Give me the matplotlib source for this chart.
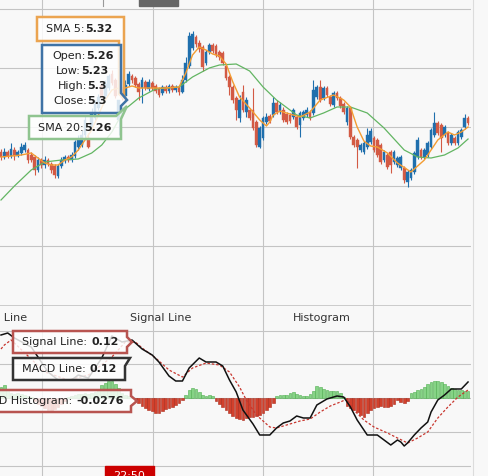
import numpy as np
import matplotlib.pyplot as plt
from matplotlib.patches import Polygon, Rectangle

# ---- price candles (one per bar) ----
opens = [5.196, 5.186, 5.196, 5.188, 5.200, 5.188, 5.194, 5.200, 5.200, 5.190,
         5.186, 5.160, 5.180, 5.170, 5.180, 5.172, 5.168, 5.148, 5.168, 5.178,
         5.186, 5.180, 5.188, 5.206, 5.210, 5.230, 5.224, 5.244, 5.264, 5.284,
         5.330, 5.308, 5.324, 5.352, 5.340, 5.260, 5.316, 5.308, 5.332, 5.348,
         5.344, 5.332, 5.324, 5.336, 5.322, 5.334, 5.328, 5.322, 5.314, 5.326,
         5.318, 5.328, 5.320, 5.326, 5.316, 5.340, 5.368, 5.404, 5.426, 5.414,
         5.406, 5.374, 5.396, 5.410, 5.408, 5.396, 5.394, 5.368, 5.346, 5.326,
         5.304, 5.264, 5.316, 5.276, 5.280, 5.280, 5.256, 5.206, 5.224, 5.256,
         5.268, 5.270, 5.294, 5.276, 5.280, 5.272, 5.270, 5.266, 5.266, 5.250,
         5.264, 5.270, 5.276, 5.274, 5.306, 5.326, 5.304, 5.324, 5.306, 5.290,
         5.314, 5.304, 5.292, 5.256, 5.284, 5.226, 5.220, 5.200, 5.196, 5.206,
         5.216, 5.224, 5.220, 5.210, 5.180, 5.190, 5.196, 5.176, 5.170, 5.164,
         5.164, 5.136, 5.144, 5.156, 5.186, 5.200, 5.186, 5.190, 5.206, 5.230,
         5.254, 5.250, 5.230, 5.234, 5.214, 5.224, 5.214, 5.226, 5.246, 5.264]
closes = [5.186, 5.196, 5.188, 5.202, 5.188, 5.196, 5.206, 5.210, 5.180, 5.180,
          5.160, 5.180, 5.170, 5.180, 5.172, 5.160, 5.150, 5.168, 5.180, 5.186,
          5.180, 5.190, 5.216, 5.220, 5.230, 5.260, 5.206, 5.276, 5.292, 5.306,
          5.308, 5.332, 5.348, 5.334, 5.308, 5.300, 5.304, 5.330, 5.352, 5.340,
          5.330, 5.316, 5.340, 5.324, 5.336, 5.324, 5.318, 5.310, 5.326, 5.318,
          5.328, 5.320, 5.326, 5.316, 5.340, 5.374, 5.428, 5.432, 5.412, 5.402,
          5.366, 5.396, 5.410, 5.398, 5.390, 5.386, 5.374, 5.344, 5.326, 5.300,
          5.280, 5.300, 5.280, 5.300, 5.264, 5.244, 5.210, 5.244, 5.264, 5.266,
          5.258, 5.294, 5.276, 5.290, 5.260, 5.256, 5.258, 5.280, 5.246, 5.274,
          5.276, 5.280, 5.264, 5.320, 5.326, 5.300, 5.324, 5.310, 5.292, 5.314,
          5.304, 5.288, 5.276, 5.284, 5.226, 5.210, 5.206, 5.210, 5.214, 5.230,
          5.238, 5.200, 5.190, 5.176, 5.196, 5.166, 5.170, 5.196, 5.184, 5.186,
          5.140, 5.156, 5.160, 5.194, 5.220, 5.186, 5.200, 5.214, 5.240, 5.254,
          5.234, 5.224, 5.246, 5.214, 5.230, 5.214, 5.236, 5.240, 5.264, 5.254]
highs = [5.202, 5.204, 5.200, 5.214, 5.206, 5.200, 5.214, 5.216, 5.204, 5.196,
         5.190, 5.186, 5.184, 5.188, 5.184, 5.176, 5.172, 5.172, 5.186, 5.190,
         5.190, 5.196, 5.220, 5.230, 5.240, 5.270, 5.234, 5.284, 5.300, 5.312,
         5.334, 5.340, 5.352, 5.360, 5.344, 5.300, 5.324, 5.340, 5.358, 5.352,
         5.348, 5.336, 5.346, 5.340, 5.342, 5.338, 5.332, 5.326, 5.330, 5.330,
         5.332, 5.332, 5.330, 5.330, 5.350, 5.386, 5.436, 5.438, 5.430, 5.420,
         5.410, 5.400, 5.414, 5.414, 5.412, 5.400, 5.398, 5.372, 5.350, 5.330,
         5.308, 5.310, 5.330, 5.306, 5.284, 5.324, 5.260, 5.248, 5.268, 5.274,
         5.272, 5.306, 5.300, 5.296, 5.286, 5.276, 5.274, 5.284, 5.270, 5.278,
         5.280, 5.286, 5.280, 5.340, 5.330, 5.340, 5.328, 5.328, 5.310, 5.318,
         5.318, 5.308, 5.296, 5.288, 5.288, 5.230, 5.224, 5.214, 5.218, 5.244,
         5.244, 5.228, 5.224, 5.214, 5.200, 5.194, 5.200, 5.200, 5.188, 5.190,
         5.168, 5.160, 5.164, 5.198, 5.226, 5.204, 5.204, 5.218, 5.244, 5.276,
         5.258, 5.254, 5.250, 5.238, 5.234, 5.228, 5.240, 5.244, 5.272, 5.268]
lows = [5.180, 5.182, 5.184, 5.184, 5.180, 5.186, 5.190, 5.196, 5.174, 5.176,
        5.150, 5.156, 5.164, 5.164, 5.168, 5.154, 5.144, 5.144, 5.164, 5.174,
        5.176, 5.176, 5.184, 5.200, 5.206, 5.224, 5.204, 5.240, 5.260, 5.280,
        5.304, 5.304, 5.320, 5.330, 5.304, 5.230, 5.300, 5.304, 5.328, 5.334,
        5.326, 5.300, 5.294, 5.320, 5.318, 5.320, 5.314, 5.306, 5.310, 5.314,
        5.314, 5.316, 5.316, 5.310, 5.314, 5.336, 5.364, 5.400, 5.406, 5.396,
        5.358, 5.370, 5.392, 5.394, 5.386, 5.380, 5.370, 5.340, 5.310, 5.294,
        5.260, 5.256, 5.276, 5.266, 5.260, 5.240, 5.206, 5.204, 5.220, 5.252,
        5.254, 5.266, 5.272, 5.272, 5.256, 5.252, 5.254, 5.262, 5.242, 5.226,
        5.260, 5.266, 5.260, 5.270, 5.302, 5.296, 5.300, 5.306, 5.288, 5.286,
        5.300, 5.284, 5.272, 5.250, 5.222, 5.206, 5.164, 5.196, 5.192, 5.202,
        5.212, 5.196, 5.186, 5.172, 5.176, 5.162, 5.154, 5.172, 5.166, 5.160,
        5.134, 5.126, 5.140, 5.152, 5.182, 5.182, 5.182, 5.186, 5.202, 5.226,
        5.230, 5.196, 5.226, 5.210, 5.210, 5.210, 5.210, 5.222, 5.242, 5.250]

# moving averages, read at selected bars
sma5_idx = [0, 3, 6, 9, 11, 13, 15, 17, 19, 21, 23, 25, 27, 29, 31, 33, 35, 37, 39, 41,
            44, 49, 53, 55, 57, 59, 61, 63, 65, 67, 69, 71, 74, 77, 79, 80, 81, 83, 86, 89,
            92, 95, 99, 102, 104, 106, 108, 110, 112, 115, 118, 122, 124, 126, 128, 130,
            133, 135, 137, 139]
sma5_val = [5.186, 5.188, 5.190, 5.194, 5.184, 5.174, 5.170, 5.170, 5.180, 5.186,
            5.200, 5.220, 5.240, 5.270, 5.300, 5.320, 5.324, 5.324, 5.328, 5.324,
            5.324, 5.324, 5.326, 5.354, 5.390, 5.406, 5.400, 5.392, 5.388, 5.372,
            5.336, 5.306, 5.284, 5.260, 5.248, 5.256, 5.270, 5.278, 5.272, 5.266,
            5.276, 5.300, 5.310, 5.300, 5.286, 5.246, 5.218, 5.208, 5.206, 5.194,
            5.174, 5.156, 5.168, 5.180, 5.200, 5.220, 5.236, 5.230, 5.236, 5.246]
sma20_idx = [0, 4, 9, 13, 18, 23, 27, 30, 33, 35, 37, 41, 46, 53, 57, 62, 65, 70, 74, 78,
             82, 88, 92, 96, 100, 104, 109, 114, 120, 124, 128, 132, 136, 139]
sma20_val = [5.100, 5.128, 5.160, 5.176, 5.180, 5.182, 5.194, 5.210, 5.236, 5.260,
             5.282, 5.304, 5.322, 5.326, 5.346, 5.364, 5.370, 5.372, 5.358, 5.326,
             5.300, 5.270, 5.264, 5.274, 5.286, 5.286, 5.274, 5.244, 5.200, 5.186,
             5.184, 5.190, 5.204, 5.222]

# ---- MACD panel ----
macd_idx = [0, 2, 4, 9, 14, 17, 21, 23, 26, 30, 33, 36, 39, 42, 45, 47, 50, 52, 54, 56,
            59, 61, 64, 66, 68, 70, 72, 75, 77, 80, 82, 84, 86, 88, 90, 92, 94, 97, 100,
            102, 104, 106, 109, 112, 114, 116, 118, 119, 120, 121, 123, 125, 127, 128,
            130, 132, 134, 137, 139]
macd_val = [0.126, 0.130, 0.120, 0.102, 0.052, 0.036, 0.036, 0.046, 0.040, 0.080,
            0.124, 0.112, 0.116, 0.098, 0.086, 0.072, 0.044, 0.034, 0.034, 0.060,
            0.080, 0.072, 0.072, 0.064, 0.036, 0.012, -0.024, -0.052, -0.074, -0.074,
            -0.060, -0.050, -0.046, -0.036, -0.040, -0.040, -0.014, -0.002, 0.004, 0.002,
            -0.018, -0.044, -0.074, -0.074, -0.084, -0.094, -0.084, -0.088, -0.096, -0.090,
            -0.074, -0.060, -0.048, -0.028, -0.004, 0.006, 0.018, 0.018, 0.032]
signal_idx = [0, 1, 3, 4, 13, 20, 26, 33, 37, 40, 42, 46, 50, 54, 57, 61, 65, 68, 71, 73,
              76, 80, 82, 85, 89, 92, 95, 98, 101, 103, 105, 108, 111, 115, 118, 121,
              124, 127, 130, 133, 136, 139]
signal_val = [0.098, 0.106, 0.116, 0.110, 0.052, 0.036, 0.046, 0.082, 0.112, 0.112,
              0.100, 0.080, 0.056, 0.042, 0.060, 0.070, 0.066, 0.052, 0.022, -0.004,
              -0.034, -0.058, -0.060, -0.054, -0.046, -0.042, -0.028, -0.016, -0.008, -0.002,
              -0.024, -0.044, -0.058, -0.070, -0.080, -0.090, -0.080, -0.068, -0.040, -0.018,
              0.002, 0.016]
hist_val = [0.022, 0.026, 0.018, 0.010, 0.008, 0.010, 0.008, 0.006, 0.004, 0.002,
            -0.006, -0.012, -0.016, -0.020, -0.024, -0.026, -0.022, -0.018, -0.012, -0.006,
            0.002, 0.004, 0.006, 0.008, 0.008, 0.010, 0.008, 0.010, 0.012, 0.018,
            0.026, 0.030, 0.034, 0.034, 0.028, 0.020, 0.010, 0.006, 0.004, 0.002,
            -0.006, -0.010, -0.016, -0.020, -0.024, -0.026, -0.030, -0.030, -0.026, -0.022,
            -0.020, -0.018, -0.014, -0.010, -0.004, 0.006, 0.016, 0.020, 0.018, 0.012,
            0.006, 0.004, 0.006, 0.004, -0.006, -0.012, -0.018, -0.024, -0.030, -0.036,
            -0.040, -0.042, -0.044, -0.040, -0.038, -0.038, -0.036, -0.034, -0.030, -0.024,
            -0.018, -0.010, 0.004, 0.006, 0.006, 0.006, 0.010, 0.012, 0.008, 0.006,
            0.004, 0.004, 0.008, 0.014, 0.024, 0.022, 0.018, 0.016, 0.014, 0.014,
            0.014, 0.010, 0.002, -0.016, -0.020, -0.024, -0.028, -0.034, -0.038, -0.030,
            -0.024, -0.020, -0.018, -0.016, -0.018, -0.018, -0.016, -0.012, -0.004, -0.008,
            -0.010, -0.006, 0.010, 0.012, 0.016, 0.018, 0.022, 0.028, 0.032, 0.034,
            0.034, 0.032, 0.028, 0.024, 0.020, 0.018, 0.016, 0.016, 0.014, 0.014]

# tooltip texts (label, value)
sma5_tip = ('SMA 5:', '5.32')
ohlc_tip = [('Open:', '5.26'), ('Low:', '5.23'), ('High:', '5.3'), ('Close:', '5.3')]
sma20_tip = ('SMA 20:', '5.26')
signal_tip = ('Signal Line: ', '0.12')
macd_tip = ('MACD Line: ', '0.12')
hist_tip = ('MACD Histogram: ', '-0.0276')
legend_names = ['MACD Line', 'Signal Line', 'Histogram']
time_label = '22:50'

# axis / grid levels
time_grid = [12.2, 45.2, 78.0, 110.7]
price_grid = [5.008, 5.127, 5.246, 5.364, 5.483]
macd_grid = [-0.136, -0.068, 0.0, 0.068, 0.134]

BG = '#f8f8f8'
GRID = '#c4c4c4'
BLUE = '#1f6fad'
RED = '#d35a44'
ORANGE = '#f39c32'
GREEN = '#62b562'

W, H = 488, 476
fig = plt.figure(figsize=(W / 100, H / 100), dpi=100)
fig.patch.set_facecolor(BG)

step = 3.36          # pixels per bar
plot_w = 471
xlim = (-1 / step, (plot_w - 1) / step)

ax = fig.add_axes([0, 171 / H, plot_w / W, 305 / H])
axm = fig.add_axes([0, 0, plot_w / W, 171 / H])
for a in (ax, axm):
    a.set_facecolor(BG)
    a.set_xlim(*xlim)
    a.set_xticks([])
    a.set_yticks([])
    for s in a.spines.values():
        s.set_visible(False)
    for t in time_grid:
        a.axvline(t, color=GRID, lw=0.8, zorder=0)
ax.set_ylim(4.89, 5.5)
axm.set_ylim(-0.156, 0.186)
for g in price_grid:
    ax.axhline(g, color=GRID, lw=0.8, zorder=0)
for g in macd_grid:
    axm.axhline(g, color=GRID, lw=0.8, zorder=0)
axm.axhline(0.186, color=GRID, lw=1.2, zorder=0)

# candles
idx = np.arange(len(closes))
o = np.array(opens)
c = np.array(closes)
up = c >= o
cols = np.where(up, BLUE, RED)
ax.vlines(idx, lows, highs, colors=cols, lw=0.8, zorder=2)
ax.bar(idx, np.maximum(np.abs(c - o), 0.0025), bottom=np.minimum(o, c), width=0.8,
       color=cols, edgecolor=cols, lw=0.3, zorder=3)
ax.plot(sma20_idx, sma20_val, color=GREEN, lw=0.9, zorder=4)
ax.plot(sma5_idx, sma5_val, color=ORANGE, lw=1.0, zorder=5)

# MACD
hv = np.array(hist_val)
pos = hv >= 0
axm.bar(idx[pos], hv[pos], width=0.8, color='#86d386', edgecolor='#4fae4f', lw=0.4, zorder=2)
axm.bar(idx[~pos], hv[~pos], width=0.8, color='#d2402c', edgecolor='#a92b1c', lw=0.4, zorder=2)
axm.plot(signal_idx, signal_val, color='#c8362e', lw=0.9, ls=(0, (2, 1.5)), zorder=3)
axm.plot(macd_idx, macd_val, color='#111111', lw=1.1, zorder=4)

# overlay in pixel coordinates for tooltips and labels
ov = fig.add_axes([0, 0, 1, 1])
ov.set_xlim(0, W)
ov.set_ylim(H, 0)
ov.axis('off')
ov.patch.set_alpha(0)

ov.plot([472.5, 472.5], [0, H], color='#dcdcdc', lw=0.8)
ov.add_patch(Rectangle((139, -2), 39, 8, color='#666666'))
ov.plot([103, 103], [0, 6], color='#999999', lw=0.8)

TXT = '#222222'
FS = 8


def callout(pts, edge, lw=1.8):
    ov.add_patch(Polygon(pts, closed=True, facecolor=(1, 1, 1, 0.82),
                         edgecolor=edge, lw=lw, joinstyle='miter'))


def pair(x, y, tip):
    # label ends at x, bold value starts at x
    ov.text(x, y, tip[0], ha='right', va='center', fontsize=FS, color=TXT)
    ov.text(x, y, tip[1], ha='left', va='center', fontsize=FS, color=TXT, fontweight='bold')


callout([(37, 17), (124, 17), (124, 95), (126, 100), (119, 94), (119, 41), (37, 41)], '#eba450')
pair(85, 29.5, sma5_tip)

callout([(42, 45), (121, 45), (121, 93), (127, 100), (121, 106), (121, 113), (42, 113)], '#3f73a6')
for (yy, sx), tip in zip([(56, 86), (71, 81), (86, 87), (101, 87)], ohlc_tip):
    pair(sx, yy, tip)

callout([(29, 116), (116, 116), (127, 106), (121, 119), (121, 139), (29, 139)], '#8fc48f')
pair(84, 128, sma20_tip)

# MACD legend row
ov.text(27, 318, legend_names[0], ha='right', va='center', fontsize=FS, color='#333333')
ov.text(130, 318, legend_names[1], ha='left', va='center', fontsize=FS, color='#333333')
ov.text(293, 318, legend_names[2], ha='left', va='center', fontsize=FS, color='#333333')

callout([(13, 331), (127, 331), (127, 337), (132, 342), (127, 347), (127, 353), (13, 353)], '#b85450')
pair(91, 342, signal_tip)

callout([(13, 358), (130, 358), (125, 366), (125, 380), (13, 380)], '#333333')
pair(89, 369, macd_tip)

callout([(-5, 390), (131, 390), (131, 396), (137, 401), (131, 406), (131, 412), (-5, 412)], '#b85450')
pair(76, 401, hist_tip)

# time label at the bottom
ov.add_patch(Rectangle((105, 466), 49, 14, color='#cc0000'))
ov.text(129.5, 476, time_label, ha='center', va='center', fontsize=FS, color='white')

fig.savefig('out.png', dpi=100, facecolor=BG)
